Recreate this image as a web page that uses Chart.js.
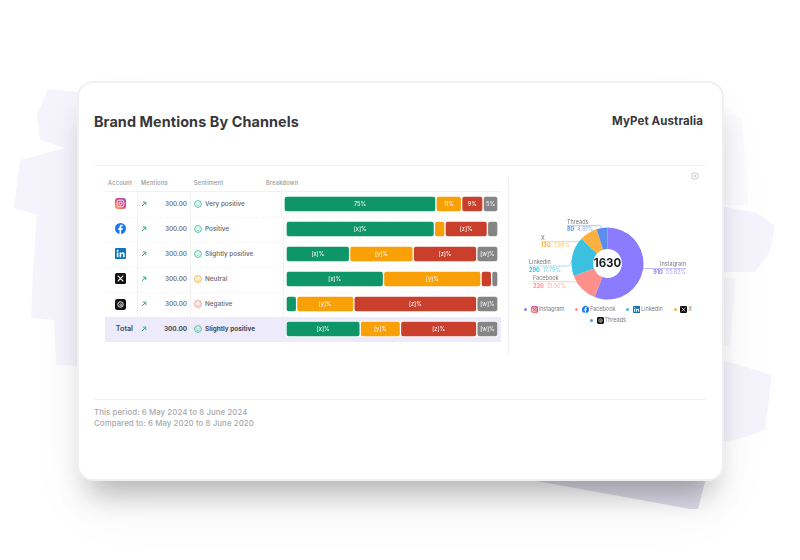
<!DOCTYPE html>
<html lang="en">
<head>
<meta charset="UTF-8">
<title>Brand Mentions By Channels</title>
<script src="https://cdn.jsdelivr.net/npm/chart.js"></script>
<style>
    html, body { margin: 0; padding: 0; background: #fff; }
    body { width: 800px; height: 560px; overflow: hidden; position: relative; font-family: Inter, sans-serif; color: #4a4a4f; }
    .stroke { position: absolute; left: 0; top: 0; width: 800px; height: 560px; background: #f5f4fc; }
    .abs { position: absolute; white-space: nowrap; }

    #card {
        position: absolute; left: 77px; top: 81px; width: 643px; height: 396px;
        background: #fff; border: 2px solid #f0f0f3; border-radius: 16px;
        box-shadow: 0 24px 30px -12px rgba(0,0,0,.28), 0 30px 60px rgba(0,0,0,.04);
    }
    #title { left: 94px; top: 113px; font-size: 14.4px; font-weight: 700; color: #37373b; letter-spacing: .1px; }
    #brand { right: 97px; top: 114px; font-size: 11.5px; font-weight: 700; color: #37373b; letter-spacing: .1px; }
    .line { position: absolute; background: #f1f1f4; }
    .head { top: 180px; font-size: 5.6px; font-weight: 500; color: #949499; letter-spacing: .25px; }
    .cell { font-size: 6.4px; font-weight: 500; color: #66666c; line-height: 10px; }
    #period { left: 94px; top: 407px; font-size: 7.8px; line-height: 11px; font-weight: 500; color: #a8a8ad; letter-spacing: .1px; }
    #legend {
        position: absolute; left: 518px; top: 304px; width: 180px; display: flex; flex-wrap: wrap;
        justify-content: center; column-gap: 11px; row-gap: 1px; font-size: 5.5px; color: #7b7b82; line-height: 10px;
    }
    .leg { display: flex; align-items: center; height: 10px; }
    .leg i { width: 3px; height: 3px; border-radius: 50%; margin-right: 3.5px; }
    canvas { position: absolute; }
</style>
</head>
<body>
<div class="stroke" style="clip-path: polygon(48px 89px,80px 92px,80px 366px,56px 365px,54px 320px,31px 318px,33px 268px,37px 215px,14px 208px,20px 160px,65px 148px,40px 140px,37px 115px)"></div>
<div class="stroke" style="clip-path: polygon(715px 205px,757px 213px,775px 226px,770px 252px,755px 272px,715px 272px)"></div>
<div class="stroke" style="background:#f9f8fd; clip-path: polygon(715px 278px,736px 278px,730px 345px,715px 345px)"></div>
<div class="stroke" style="clip-path: polygon(715px 358px,772px 375px,765px 430px,735px 440px,715px 442px)"></div>
<div class="stroke" style="background:#fbfbfe; clip-path: polygon(722px 112px,742px 118px,748px 205px,722px 205px)"></div>
<div class="stroke" style="background:#dddce9; z-index: 1; clip-path: polygon(520px 478px,706px 478px,698px 509px,690px 509px)"></div>

<div id="card" style="z-index:2"></div>
<div id="page" style="position:absolute;left:0;top:0;width:800px;height:560px;z-index:3">
    <div class="abs" id="title">Brand Mentions By Channels</div>
    <div class="abs" id="brand">MyPet Australia</div>

    <div class="line" style="left:94px;top:165px;width:612px;height:1px"></div>
    <div class="line" style="left:94px;top:399px;width:612px;height:1px"></div>
    <div class="line" style="left:508px;top:177px;width:1px;height:178px"></div>

    <div class="abs head" style="left:108px">Account</div>
    <div class="abs head" style="left:141px">Mentions</div>
    <div class="abs head" style="left:194px">Sentiment</div>
    <div class="abs head" style="left:266px">Breakdown</div>
    <div class="line" style="left:105px;top:191px;width:395px;height:1px"></div>

    <div id="rows"></div>
    <div id="legend"></div>

    <svg class="abs" style="left:691px;top:172px" width="8" height="8" viewBox="0 0 8 8"><circle cx="4" cy="4" r="3.3" fill="none" stroke="#c4c4c8" stroke-width=".9"/><circle cx="4" cy="4" r="1" fill="#c4c4c8"/></svg>

    <div class="abs" id="period">This period: 6 May 2024 to 8 June 2024<br>Compared to: 6 May 2020 to 8 June 2020</div>
    <canvas id="donut" width="185" height="95" style="left:515px;top:210px"></canvas>
</div>

<script>
// table rows
const channels = ['Instagram', 'Facebook', 'Linkedin', 'X', 'Threads', 'Total'];
const mentions = ['300.00', '300.00', '300.00', '300.00', '300.00', '300.00'];
const sentiments = ['Very positive', 'Positive', 'Slightly positive', 'Neutral', 'Negative', 'Slightly positive'];

// breakdown shares
const greenShare = [71, 70, 30, 46, 5, 35];
const orangeShare = [12, 5, 30, 46, 27, 19];
const redShare = [10, 20, 30, 5, 58, 36];
const greyShare = [7, 5, 10, 3, 10, 10];

// text printed inside the segments
const greenText = ['75%', '[x]%', '[x]%', '[x]%', '', '[x]%'];
const orangeText = ['11%', '', '[y]%', '[y]%', '[y]%', '[y]%'];
const redText = ['9%', '[z]%', '[z]%', '', '[z]%', '[z]%'];
const greyText = ['5%', '', '[w]%', '', '[w]%', '[w]%'];

// doughnut
const donutNames = ['Instagram', 'Facebook', 'Linkedin', 'X', 'Threads'];
const donutValues = [910, 220, 290, 130, 80];
const donutPercents = ['55.83%', '13.50%', '17.79%', '7.98%', '4.91%'];
const donutTotal = '1630';

const GREEN = '#0f9668', ORANGE = '#f9a007', RED = '#c93f2c', GREY = '#858585';
const donutColors = ['#8b7bff', '#ff8f8a', '#3bc0e0', '#fbb040', '#5b8def'];
const faceColors = { 'Very positive': '#4fc3a1', 'Positive': '#4fc3a1', 'Slightly positive': '#4fc3a1', 'Neutral': '#fbb040', 'Negative': '#f4918a' };

function iconSvg(name, size) {
    const open = `<svg width="${size}" height="${size}" viewBox="0 0 12 12" style="flex:none">`;
    if (name === 'Instagram') {
        return open + `<defs><linearGradient id="ig${size}" x1="0" y1="1" x2="1" y2="0"><stop offset="0" stop-color="#fdb44b"/><stop offset=".5" stop-color="#e8477e"/><stop offset="1" stop-color="#7a5bd6"/></linearGradient></defs>
            <rect width="12" height="12" rx="3" fill="url(#ig${size})"/><rect x="2.4" y="2.4" width="7.2" height="7.2" rx="2" fill="none" stroke="#fff" stroke-width=".9"/><circle cx="6" cy="6" r="1.7" fill="none" stroke="#fff" stroke-width=".9"/></svg>`;
    }
    if (name === 'Facebook') {
        return open + `<circle cx="6" cy="6" r="6" fill="#1877f2"/><path d="M6.7 12V7.3h1.5l.3-1.8H6.7V4.4c0-.6.3-.9.9-.9h.9V2c-1.9-.4-3.6.1-3.6 2.2v1.3H3.5v1.8h1.4V12z" fill="#fff"/></svg>`;
    }
    if (name === 'Linkedin') {
        return open + `<rect width="12" height="12" rx="1" fill="#1273b5"/><rect x="2" y="4.8" width="1.7" height="5.2" fill="#fff"/><circle cx="2.85" cy="3" r="1" fill="#fff"/><path d="M5 4.8h1.6v.8c.8-1.3 3.9-1.4 3.9 1.3V10H8.8V7.3c0-1.4-2.1-1.3-2.1 0V10H5z" fill="#fff"/></svg>`;
    }
    if (name === 'X') {
        return open + `<rect width="12" height="12" rx="2" fill="#111"/><path d="M3 2.8l6 6.4M9 2.8l-6 6.4" stroke="#fff" stroke-width="1.3"/></svg>`;
    }
    return open + `<rect width="12" height="12" rx="2.5" fill="#111"/><circle cx="6" cy="6" r="3" fill="none" stroke="#fff" stroke-width="1"/><circle cx="6.3" cy="6.3" r="1.1" fill="none" stroke="#fff" stroke-width=".8"/></svg>`;
}

function faceSvg(mood) {
    const c = faceColors[mood];
    return `<svg width="8" height="8" viewBox="0 0 8 8"><circle cx="4" cy="4" r="3.4" fill="none" stroke="${c}" stroke-width="1"/><path d="M2.5 4.7c.7 1 2.3 1 3 0" fill="none" stroke="${c}" stroke-width=".8"/><circle cx="2.9" cy="3" r=".5" fill="${c}"/><circle cx="5.100" cy="3" r=".5" fill="${c}"/></svg>`;
}

const arrowSvg = '<svg width="6" height="6" viewBox="0 0 6 6"><path d="M1 5l3.600-3.600M1.800 1.100h3v3" fill="none" stroke="#35a983" stroke-width="1"/></svg>';

// row layout
const ROW_TOP = 192, ROW_H = 25.15;
const rowsEl = document.getElementById('rows');
let html = '<div class="abs" style="left:105px;top:317px;width:396px;height:25px;background:#edebfb"></div>';
html += '<div class="line" style="left:137px;top:192px;width:1px;height:150px"></div>';
html += '<div class="line" style="left:190px;top:192px;width:1px;height:150px"></div>';
html += '<div class="line" style="left:283px;top:217px;width:1px;height:100px"></div>';
html += '<div class="line" style="left:281px;top:192px;width:1px;height:25px"></div>';
channels.forEach((name, i) => {
    const mid = ROW_TOP + ROW_H * i + 11.5;
    const isTotal = name === 'Total';
    const weight = isTotal ? 'font-weight:700;color:#4a4a4f;' : '';
    if (i > 0 && !isTotal) {
        html += `<div class="abs" style="left:105px;top:${mid - 12}px;width:395px;border-top:1px dashed #f5f5f7"></div>`;
    }
    if (isTotal) {
        html += `<div class="abs cell" style="right:667px;top:${mid - 5}px;font-size:7.2px;font-weight:600;color:#444">Total</div>`;
    } else {
        html += `<div class="abs" style="left:115px;top:${mid - 5.5}px;height:11px;line-height:0">${iconSvg(name, 11)}</div>`;
    }
    html += `<div class="abs" style="left:141px;top:${mid - 3}px;line-height:0">${arrowSvg}</div>`;
    html += `<div class="abs cell" style="right:613px;top:${mid - 5}px;${weight}">${mentions[i]}</div>`;
    html += `<div class="abs" style="left:194px;top:${mid - 4}px;line-height:0">${faceSvg(sentiments[i])}</div>`;
    html += `<div class="abs cell" style="left:205px;top:${mid - 5}px;${weight}">${sentiments[i]}</div>`;
    html += `<canvas id="bar${i}" width="${i === 0 ? 214 : 212}" height="18" style="left:${i === 0 ? 284 : 286}px;top:${mid - 9}px"></canvas>`;
});
rowsEl.innerHTML = html;

// segment captions
const barText = {
    id: 'barText',
    afterDatasetsDraw(chart) {
        const { ctx } = chart;
        ctx.save();
        ctx.font = '500 5.6px Inter, sans-serif';
        ctx.fillStyle = '#f4f4f4';
        ctx.textAlign = 'center';
        ctx.textBaseline = 'middle';
        chart.data.datasets.forEach((ds, d) => {
            const props = chart.getDatasetMeta(d).data[0].getProps(['x', 'y', 'base'], true);
            if (ds.caption) ctx.fillText(ds.caption, (props.x + props.base) / 2, props.y + .5);
        });
        ctx.restore();
    }
};

channels.forEach((name, i) => {
    // floating bars, so every segment keeps its own rounded corners
    let from = 0;
    const datasets = [
        [greenShare, GREEN, greenText],
        [orangeShare, ORANGE, orangeText],
        [redShare, RED, redText],
        [greyShare, GREY, greyText]
    ].map(([values, color, text]) => {
        const span = [from, from + values[i]];
        from += values[i];
        return {
            data: [span],
            backgroundColor: color,
            caption: text[i],
            borderColor: '#ffffff',
            borderWidth: 1,
            borderSkipped: false,
            borderRadius: 3,
            barThickness: 16,
            grouped: false
        };
    });
    new Chart(document.getElementById('bar' + i), {
        type: 'bar',
        data: { labels: [name], datasets },
        options: {
            indexAxis: 'y',
            responsive: false,
            animation: false,
            layout: { padding: 0 },
            plugins: { legend: { display: false }, tooltip: { enabled: false } },
            scales: {
                x: { display: false, min: 0, max: 100 },
                y: { display: false }
            }
        },
        plugins: [barText]
    });
});

// callout placement for the doughnut, in canvas pixels
const calloutSpots = [
    { x: 171, lineY: 58.5, elbowX: 130, nameY: 54.5, valueY: 62.5, right: true },
    { x: 18, lineY: 71.7, elbowX: 60, nameY: 68, valueY: 76 },
    { x: 14, lineY: 56, elbowX: 54, nameY: 52.5, valueY: 60 },
    { x: 26, lineY: 31.5, elbowX: 66, nameY: 28, valueY: 35 },
    { x: 52, lineY: 15.7, elbowX: 85.5, nameY: 12, valueY: 19.5 }
];

const donutLabels = {
    id: 'donutLabels',
    beforeDatasetsDraw(chart) {
        const { ctx } = chart;
        ctx.save();
        chart.getDatasetMeta(0).data.forEach((arc, i) => {
            const p = arc.getProps(['x', 'y', 'startAngle', 'endAngle', 'outerRadius'], true);
            const a = (p.startAngle + p.endAngle) / 2;
            const s = calloutSpots[i];
            ctx.strokeStyle = donutColors[i] + '99';
            ctx.lineWidth = 0.8;
            ctx.beginPath();
            ctx.moveTo(p.x + Math.cos(a) * (p.outerRadius - 2), p.y + Math.sin(a) * (p.outerRadius - 2));
            ctx.lineTo(s.elbowX, s.lineY);
            ctx.lineTo(s.x, s.lineY);
            ctx.stroke();
        });
        ctx.restore();
    },
    afterDatasetsDraw(chart) {
        const { ctx } = chart;
        const c = chart.getDatasetMeta(0).data[0];
        ctx.save();
        ctx.textBaseline = 'middle';
        donutNames.forEach((name, i) => {
            const s = calloutSpots[i];
            const count = String(donutValues[i]);
            ctx.font = '400 5.5px Inter, sans-serif';
            const pctW = ctx.measureText(donutPercents[i]).width;
            ctx.textAlign = s.right ? 'right' : 'left';
            ctx.fillStyle = '#77777d';
            ctx.fillText(name, s.x, s.nameY);
            ctx.textAlign = 'left';
            ctx.font = '700 5.5px Inter, sans-serif';
            const countW = ctx.measureText(count).width;
            const startX = s.right ? s.x - pctW - countW - 3 : s.x;
            ctx.fillStyle = donutColors[i];
            ctx.fillText(count, startX, s.valueY);
            ctx.font = '400 5.5px Inter, sans-serif';
            ctx.globalAlpha = .75;
            ctx.fillText(donutPercents[i], startX + countW + 3, s.valueY);
            ctx.globalAlpha = 1;
        });
        ctx.font = '700 11.5px Inter, sans-serif';
        ctx.fillStyle = '#222226';
        ctx.textAlign = 'center';
        ctx.fillText(donutTotal, c.x, c.y + .5);
        ctx.restore();
    }
};

new Chart(document.getElementById('donut'), {
    type: 'doughnut',
    data: {
        labels: donutNames,
        datasets: [{ data: donutValues, backgroundColor: donutColors, borderWidth: 0 }]
    },
    options: {
        responsive: false,
        animation: false,
        cutout: '40%',
        layout: { padding: { top: 17.5, bottom: 5.5 } },
        plugins: { legend: { display: false }, tooltip: { enabled: false } }
    },
    plugins: [donutLabels]
});

// legend under the doughnut
document.getElementById('legend').innerHTML = donutNames.map((name, i) =>
    `<div class="leg"><i style="background:${donutColors[i]}"></i>${iconSvg(name, 7)}<span style="margin-left:1px">${name}</span></div>`
).join('');
</script>
</body>
</html>
